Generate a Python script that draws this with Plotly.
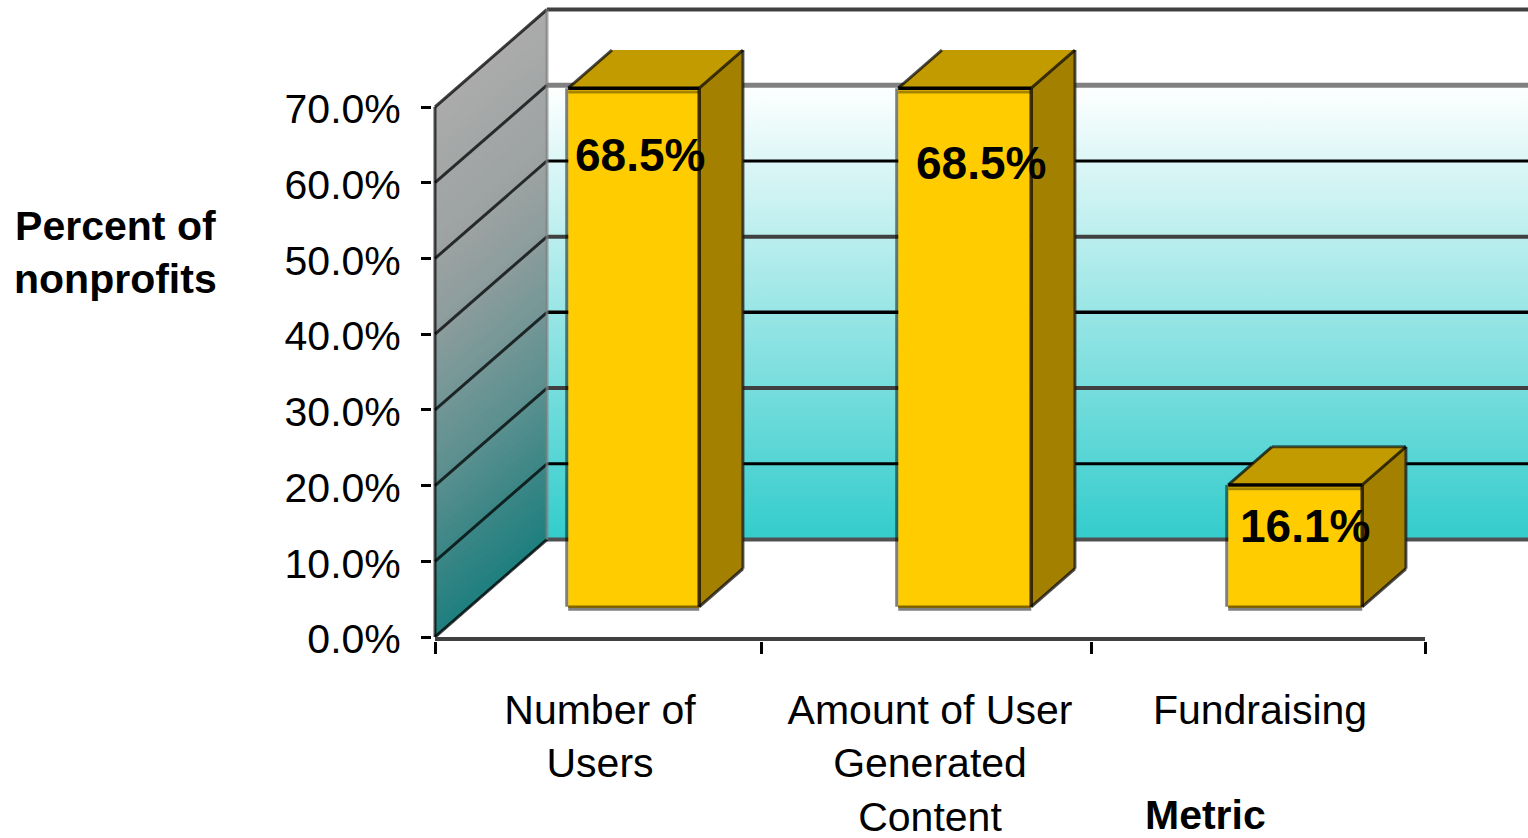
import plotly.graph_objects as go
from plotly.colors import sample_colorscale

categories = ["Number of<br>Users", "Amount of User<br>Generated<br>Content", "Fundraising"]
values = [68.5, 68.5, 16.1]
y_ticks = [0, 10, 20, 30, 40, 50, 60, 70]
x_ticks = [0, 0.988, 1.988, 3]
y_title = "Percent of<br>nonprofits"
x_title = "Metric"

W, H = 1528, 838
X0, Y0 = 435, 637            # pixel of the chart origin
PAD_L, PAD_B = 3, 4          # room round the origin so the axis lines are not clipped
PX_CAT, PX_PCT = 330.0, 530 / 70.0
XMAX = (W - X0) / PX_CAT
YMAX = Y0 / PX_PCT
XMIN = -PAD_L / PX_CAT
YMIN = -PAD_B / PX_PCT
WALL_DX, WALL_DY = 112 / PX_CAT, 97.5 / PX_PCT
Z0, Z1 = 0.31, 0.70          # depth of bar front and back
BAR_W = 133 / PX_CAT
bar_widths = [131 / PX_CAT, 133 / PX_CAT, 134 / PX_CAT]
SANS = "Liberation Sans"

grid_colors = ["#505050", "#000000", "#404040", "#000000", "#404040", "#000000", "#808080", "#404040"]
grid_widths = [4, 3, 4, 3.5, 4, 3, 5, 4]
label_dx = [5, 16, 10]
label_dy = [-67, -75, -41]
back_edge = ["rgba(0,0,0,0)", "rgba(0,0,0,0)", "rgba(0,0,0,0.6)"]
wall_scale = [[0, "#1f7f7f"], [1 / 7, "#3b8686"], [2 / 7, "#5a8f8f"], [3 / 7, "#739696"],
              [4 / 7, "#8b9c9c"], [5 / 7, "#9ca2a2"], [1, "#ababab"]]


def proj(x, v, z):
    return x + WALL_DX * z, v + WALL_DY * z


def page_x(px):
    return (px - (X0 - PAD_L)) / (W - X0 + PAD_L)


def page_y(py):
    return (Y0 + PAD_B - py) / (Y0 + PAD_B)


fig = go.Figure()


def poly(pts, color=None, grad=None, axes=("x", "y")):
    xs = [p[0] for p in pts]
    ys = [p[1] for p in pts]
    kw = dict(fillgradient=grad) if grad else dict(fillcolor=color)
    fig.add_trace(go.Scatter(x=xs + xs[:1], y=ys + ys[:1], mode="lines", fill="toself",
                             line=dict(width=0), hoverinfo="skip", xaxis=axes[0], yaxis=axes[1], **kw))


def line(pts, color, width, axes=("x", "y")):
    fig.add_trace(go.Scatter(x=[p[0] for p in pts], y=[p[1] for p in pts], mode="lines",
                             line=dict(color=color, width=width), hoverinfo="skip",
                             xaxis=axes[0], yaxis=axes[1]))


top = y_ticks[-1]
# back wall
poly([proj(0, 0, 1), (XMAX, WALL_DY), (XMAX, top + WALL_DY), proj(0, top, 1)],
     grad=dict(type="vertical", start=WALL_DY, stop=60 + WALL_DY,
               colorscale=[[0, "#33cccc"], [1, "#ffffff"]]))
# side wall: its shading runs along the value direction, parallel to its grid lines
for v in range(top, 0, -1):
    poly([proj(0, 0, 0), proj(0, 0, 1), proj(0, v, 1), proj(0, v, 0)],
         color=sample_colorscale(wall_scale, (v - 0.5) / top)[0])
# grid lines
for t, c, w in zip(y_ticks, grid_colors, grid_widths):
    line([proj(0, t, 1), (XMAX, t + WALL_DY)], c, w)
    line([proj(0, t, 0), proj(0, t, 1)], "rgba(0,0,0,0.75)", 3)
line([proj(0, 0, 1), proj(0, top, 1)], "rgba(128,128,128,0.7)", 3)
line([(0, 0), (0, top)], "rgba(0,0,0,0.7)", 3)
line([(0, -2 / PX_PCT), (len(values), -2 / PX_PCT)], "#404040", 4)

# bars (on an overlaid pair of axes so they sit above the walls)
OV = ("x2", "y2")
centers = [i + 0.5 for i in range(len(values))]
base = WALL_DY * Z0
lefts = [c - BAR_W / 2 for c in centers]
rights = [l + w for l, w in zip(lefts, bar_widths)]

fig.add_trace(go.Bar(x=[(l + r) / 2 + WALL_DX * Z0 for l, r in zip(lefts, rights)], y=values,
                     base=base, width=bar_widths,
                     marker=dict(color="#ffcc00", line=dict(width=0)), hoverinfo="skip",
                     xaxis="x2", yaxis="y2"))

for l, r, v, be in zip(lefts, rights, values, back_edge):
    a = proj(l, 0, Z0); b = proj(r, 0, Z0); c = proj(r, v, Z0); d = proj(l, v, Z0)
    b2 = proj(r, 0, Z1); c2 = proj(r, v, Z1); d2 = proj(l, v, Z1)
    poly([b, b2, c2, c], "#a38000", axes=OV)
    poly([d, c, c2, d2], "#c29b00", axes=OV)
    line([(a[0], a[1] - 2 / PX_PCT), (b[0], b[1] - 2 / PX_PCT)], "#808080", 4, OV)
    line([a, b], "#806400", 2.5, OV)
    line([(a[0] - 1.5 / PX_CAT, a[1]), (d[0] - 1.5 / PX_CAT, d[1])], "rgba(0,0,0,0.5)", 3, OV)
    line([(d[0], d[1] - 0.5), (c[0], c[1] - 0.5)], "#a58400", 3, OV)
    line([b, c], "rgba(30,20,0,0.85)", 3.5, OV)
    line([b2, c2], "rgba(30,30,30,0.8)", 3, OV)
    line([b, b2], "rgba(0,0,0,0.7)", 3, OV)
    line([d, c], "#000000", 3.5, OV)
    line([d, d2], "rgba(0,0,0,0.7)", 3, OV)
    line([c, c2], "rgba(0,0,0,0.7)", 3, OV)
    line([d2, c2], be, 3, OV)

annotations = []
for l, r, v, dx, dy in zip(lefts, rights, values, label_dx, label_dy):
    cx, cy = proj((l + BAR_W / 2), v, Z0)
    annotations.append(dict(x=cx, y=cy, xref="x", yref="y", text=f"<b>{v:.1f}%</b>", showarrow=False,
                            xshift=dx, yshift=dy, font=dict(family=SANS, size=46, color="#000000")))
annotations.append(dict(xref="paper", yref="paper", x=page_x(115), y=page_y(252),
                        xanchor="center", yanchor="middle",
                        text="<b>" + y_title + "</b>", showarrow=False, align="center",
                        font=dict(family=SANS, size=41, color="#000000")))
annotations.append(dict(xref="paper", yref="paper", x=page_x(1205), y=page_y(815),
                        xanchor="center", yanchor="middle",
                        text="<b>" + x_title + "</b>", showarrow=False,
                        font=dict(family=SANS, size=41, color="#000000")))

fig.update_layout(
    width=W, height=H, autosize=False, showlegend=False, barmode="overlay",
    margin=dict(l=X0 - PAD_L, r=0, t=0, b=H - Y0 - PAD_B, pad=0),
    paper_bgcolor="#ffffff", plot_bgcolor="rgba(0,0,0,0)",
    annotations=annotations,
    xaxis=dict(range=[XMIN, XMAX], showgrid=False, zeroline=False, showline=False, automargin=False,
               tickmode="array", tickvals=centers, ticktext=categories, ticks="",
               ticklabelstandoff=41, tickangle=0,
               tickfont=dict(family=SANS, size=41, color="#000000"),
               minor=dict(tickmode="array", tickvals=x_ticks, ticks="outside", ticklen=12,
                          tickwidth=3, tickcolor="#000000", showgrid=False)),
    yaxis=dict(range=[YMIN, YMAX], showgrid=False, zeroline=False, showline=False, automargin=False,
               tickmode="array", tickvals=y_ticks, ticktext=[f"{t:.1f}%" for t in y_ticks],
               ticks="outside", ticklen=10, tickwidth=3, tickcolor="#000000",
               ticklabelstandoff=12, ticklabelshift=2,
               tickfont=dict(family=SANS, size=41, color="#000000")),
    xaxis2=dict(range=[XMIN, XMAX], overlaying="x", visible=False),
    yaxis2=dict(range=[YMIN, YMAX], overlaying="y", visible=False),
)
fig.write_html("out.html", post_script="document.body.style.margin='0';",
               config=dict(displayModeBar=False))
